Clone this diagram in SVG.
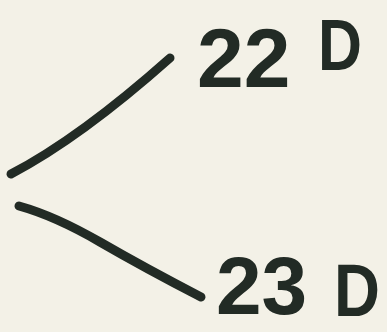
<svg xmlns="http://www.w3.org/2000/svg" width="387" height="332" viewBox="0 0 387 332">
<style>
.ink{fill:none;stroke:#222b25;stroke-width:9;stroke-linecap:round;stroke-linejoin:round}
.lbl{font-family:"Liberation Sans",Arial,sans-serif;font-weight:bold;fill:#222b25}
</style>
<rect width="387" height="332" fill="#f3f1e7"/>
<g id="connectors">
<path class="ink" d="M11,174 Q80,138 170,58"/>
<path class="ink" d="M19,206 Q55,216 100,242 T201,297"/>
</g>
<g id="node-22D">
<text class="lbl"><tspan x="197" y="87" font-size="84">22</tspan><tspan x="318" y="70" font-size="72" textLength="44" lengthAdjust="spacingAndGlyphs">D</tspan></text>
</g>
<g id="node-23D">
<text class="lbl"><tspan x="216" y="314" font-size="82">23</tspan><tspan x="334" y="316" font-size="74" textLength="46" lengthAdjust="spacingAndGlyphs">D</tspan></text>
</g>
</svg>
